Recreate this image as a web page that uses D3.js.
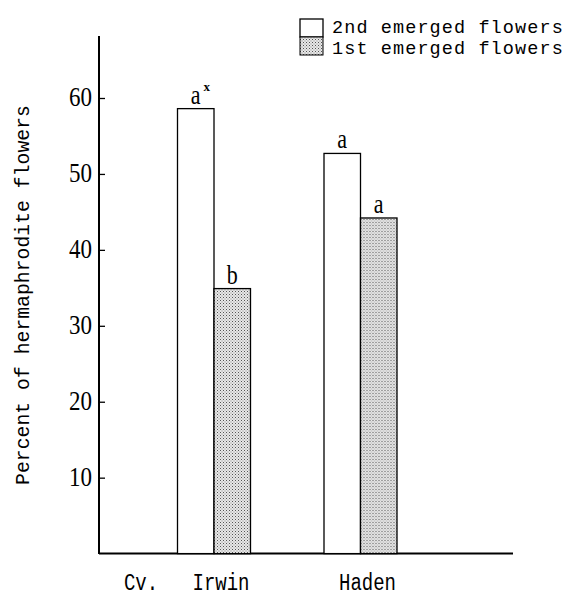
<!DOCTYPE html>
<html>
<head>
<meta charset="utf-8">
<script src="https://cdn.jsdelivr.net/npm/d3@7"></script>
<style>
  html, body { margin: 0; padding: 0; background: #fff; }
  svg { display: block; }
</style>
</head>
<body>
<svg id="chart" width="571" height="596"></svg>
<script>
// ---- data ----
const categories = ["Irwin", "Haden"];
const seriesNames = ["2nd emerged flowers", "1st emerged flowers"];
const secondEmerged = [58.6, 52.7];
const firstEmerged = [34.9, 44.2];
const secondLetters = ["a", "a"];
const firstLetters = ["b", "a"];
const yTicks = [10, 20, 30, 40, 50, 60];
const yLabel = "Percent of hermaphrodite flowers";
const xPrefix = "Cv.";

const svg = d3.select("#chart");
const mono = "'Liberation Mono', 'DejaVu Sans Mono', monospace";
const serif = "'Liberation Serif', 'DejaVu Serif', serif";

// pattern for stippled bars
const defs = svg.append("defs");
const pat = defs.append("pattern")
  .attr("id", "stipple").attr("patternUnits", "userSpaceOnUse")
  .attr("width", 3).attr("height", 3);
pat.append("rect").attr("width", 3).attr("height", 3).attr("fill", "#e8e8e8");
pat.append("rect").attr("x", 0).attr("y", 0).attr("width", 1).attr("height", 1).attr("fill", "#555");
pat.append("rect").attr("x", 1.5).attr("y", 1.5).attr("width", 1).attr("height", 1).attr("fill", "#888");

// scales
const y = d3.scaleLinear().domain([0, 60]).range([553.6, 98]);
const xGroup = d3.scalePoint().domain(categories).range([214, 360.5]);
const xInner = d3.scaleBand().domain(seriesNames).range([-36.5, 36.5]).padding(0);

const axisX = 99;
const baseY = y(0);

// axes lines
svg.append("line").attr("x1", axisX).attr("x2", axisX)
  .attr("y1", 36).attr("y2", baseY + 0.5)
  .attr("stroke", "#000").attr("stroke-width", 2);
svg.append("line").attr("x1", axisX).attr("x2", 513)
  .attr("y1", baseY).attr("y2", baseY)
  .attr("stroke", "#000").attr("stroke-width", 2);

// y axis ticks (inward) with d3 axis
const yAxis = d3.axisRight(y).tickValues(yTicks).tickSize(6).tickFormat("");
const gy = svg.append("g").attr("transform", `translate(${axisX},0)`).call(yAxis);
gy.select(".domain").remove();
gy.selectAll(".tick line").attr("stroke", "#000").attr("stroke-width", 1.3);

// tick labels
svg.append("g").selectAll("text").data(yTicks).join("text")
  .attr("transform", d => `translate(92,${y(d) + 8}) scale(1,1.15)`)
  .attr("text-anchor", "end")
  .attr("font-family", serif).attr("font-size", 23)
  .text(d => d);

// y label
svg.append("text")
  .attr("transform", "translate(29,295) rotate(-90)")
  .attr("text-anchor", "middle")
  .attr("font-family", mono).attr("font-size", 19.8)
  .text(yLabel);

// bars
const rows = categories.map((c, i) => ({
  cat: c,
  vals: [
    { s: seriesNames[0], v: secondEmerged[i], letter: secondLetters[i] },
    { s: seriesNames[1], v: firstEmerged[i], letter: firstLetters[i] }
  ]
}));

const groups = svg.append("g").selectAll("g").data(rows).join("g")
  .attr("transform", d => `translate(${xGroup(d.cat)},0)`);

groups.selectAll("rect").data(d => d.vals).join("rect")
  .attr("x", d => xInner(d.s))
  .attr("y", d => y(d.v))
  .attr("width", xInner.bandwidth())
  .attr("height", d => baseY - y(d.v))
  .attr("fill", (d, i) => i === 0 ? "#fff" : "url(#stipple)")
  .attr("stroke", "#000").attr("stroke-width", 1.3);

groups.selectAll("text.letter").data(d => d.vals).join("text")
  .attr("class", "letter")
  .attr("transform", d => `translate(${xInner(d.s) + xInner.bandwidth() / 2},${y(d.v) - 5}) scale(1,1.2)`)
  .attr("text-anchor", "middle")
  .attr("font-family", serif).attr("font-size", 22)
  .text(d => d.letter);

// superscript x on Irwin 2nd
svg.append("text")
  .attr("x", xGroup("Irwin") + xInner(seriesNames[0]) + xInner.bandwidth() / 2 + 11)
  .attr("y", y(secondEmerged[0]) - 18)
  .attr("text-anchor", "middle")
  .attr("font-family", serif).attr("font-size", 13).attr("font-weight", "bold")
  .text("x");

// x labels
svg.append("text")
  .attr("transform", `translate(141,590) scale(1,1.25)`)
  .attr("text-anchor", "middle")
  .attr("font-family", mono).attr("font-size", 19)
  .text(xPrefix);
svg.append("g").selectAll("text").data(categories).join("text")
  .attr("transform", d => `translate(${xGroup(d) + 7},590) scale(1,1.25)`)
  .attr("text-anchor", "middle")
  .attr("font-family", mono).attr("font-size", 19)
  .text(d => d);

// legend
const leg = svg.append("g");
leg.append("rect").attr("x", 300).attr("y", 19).attr("width", 23).attr("height", 18)
  .attr("fill", "#fff").attr("stroke", "#000").attr("stroke-width", 1.3);
leg.append("rect").attr("x", 300).attr("y", 37).attr("width", 23).attr("height", 18)
  .attr("fill", "url(#stipple)").attr("stroke", "#000").attr("stroke-width", 1);
leg.selectAll("text").data(seriesNames).join("text")
  .attr("x", 332)
  .attr("y", (d, i) => 33 + i * 21)
  .attr("font-family", mono).attr("font-size", 18.5)
  .attr("letter-spacing", 1.1)
  .text(d => d);
</script>
</body>
</html>
